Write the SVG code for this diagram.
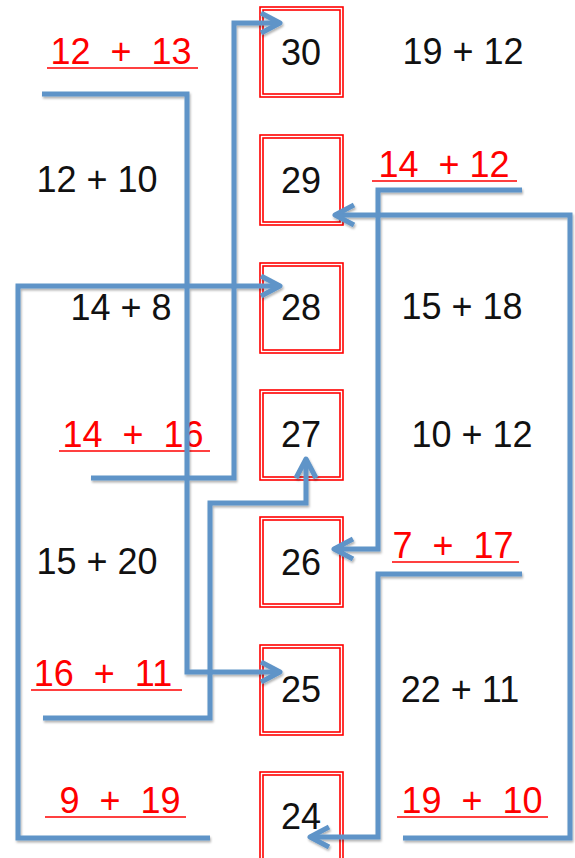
<svg xmlns="http://www.w3.org/2000/svg" width="575" height="858" viewBox="0 0 575 858">
<defs>
<style>
.box{fill:none;stroke:#ff0000;stroke-width:1.6}
.num{font-family:"Liberation Sans",Arial,sans-serif;font-size:36px;fill:#111;text-anchor:middle}
.lbl{font-family:"Liberation Sans",Arial,sans-serif;font-size:36px;fill:#111;text-anchor:middle}
.red{font-family:"Liberation Sans",Arial,sans-serif;font-size:36px;fill:#ff0000;text-anchor:middle;white-space:pre}
.ul{stroke:#ff0000;stroke-width:1.5}
.con{fill:none;stroke:#5f94c8;stroke-width:5;stroke-linejoin:miter;marker-end:url(#arr)}
</style>
<marker id="arr" markerUnits="userSpaceOnUse" viewBox="-24 -14 28 28" refX="0" refY="0" markerWidth="28" markerHeight="28" orient="auto">
<path d="M-19,-10 L0,0 L-19,10" fill="none" stroke="#5f94c8" stroke-width="5" stroke-linejoin="round" stroke-linecap="butt"/>
</marker>
<filter id="sh" x="-10%" y="-10%" width="120%" height="120%">
<feDropShadow dx="1" dy="2" stdDeviation="1.2" flood-color="#000" flood-opacity="0.3"/>
</filter>
</defs>
<rect width="575" height="858" fill="#fff"/>

<g id="box30"><rect class="box" x="260" y="7" width="83" height="90"/><rect class="box" x="263" y="10" width="77" height="84"/><text class="num" x="301" y="65">30</text></g>
<g id="box29"><rect class="box" x="260" y="135" width="83" height="90"/><rect class="box" x="263" y="138" width="77" height="84"/><text class="num" x="301" y="193">29</text></g>
<g id="box28"><rect class="box" x="260" y="263" width="83" height="90"/><rect class="box" x="263" y="266" width="77" height="84"/><text class="num" x="301" y="320">28</text></g>
<g id="box27"><rect class="box" x="260" y="390" width="83" height="90"/><rect class="box" x="263" y="393" width="77" height="84"/><text class="num" x="301" y="447">27</text></g>
<g id="box26"><rect class="box" x="260" y="517" width="83" height="90"/><rect class="box" x="263" y="520" width="77" height="84"/><text class="num" x="301" y="575">26</text></g>
<g id="box25"><rect class="box" x="260" y="645" width="83" height="90"/><rect class="box" x="263" y="648" width="77" height="84"/><text class="num" x="301" y="702">25</text></g>
<g id="box24"><rect class="box" x="260" y="772" width="83" height="90"/><rect class="box" x="263" y="775" width="77" height="84"/><text class="num" x="301" y="829">24</text></g>

<g id="lbl-12-13"><text class="red" x="121" y="64" xml:space="preserve">12  +  13</text><line class="ul" x1="47" y1="68" x2="198" y2="68"/></g>
<g id="lbl-12-10"><text class="lbl" x="97" y="192">12 + 10</text></g>
<g id="lbl-14-8"><text class="lbl" x="121" y="320">14 + 8</text></g>
<g id="lbl-14-16"><text class="red" x="133" y="447" xml:space="preserve">14  +  16</text><line class="ul" x1="59" y1="451" x2="210" y2="451"/></g>
<g id="lbl-15-20"><text class="lbl" x="97" y="574">15 + 20</text></g>
<g id="lbl-16-11"><text class="red" x="103" y="686" xml:space="preserve">16  +  11</text><line class="ul" x1="31" y1="690" x2="182" y2="690"/></g>
<g id="lbl-9-19"><text class="red" x="120" y="813" xml:space="preserve">9  +  19</text><line class="ul" x1="45" y1="817" x2="186" y2="817"/></g>

<g id="lbl-19-12"><text class="lbl" x="463" y="64">19 + 12</text></g>
<g id="lbl-14-12"><text class="red" x="444" y="177" xml:space="preserve">14  + 12</text><line class="ul" x1="372" y1="181" x2="517" y2="181"/></g>
<g id="lbl-15-18"><text class="lbl" x="462" y="319">15 + 18</text></g>
<g id="lbl-10-12"><text class="lbl" x="472" y="447">10 + 12</text></g>
<g id="lbl-7-17"><text class="red" x="453" y="558" xml:space="preserve">7  +  17</text><line class="ul" x1="392" y1="562" x2="519" y2="562"/></g>
<g id="lbl-22-11"><text class="lbl" x="460" y="702">22 + 11</text></g>
<g id="lbl-19-10"><text class="red" x="472" y="813" xml:space="preserve">19  +  10</text><line class="ul" x1="397" y1="817" x2="548" y2="817"/></g>

<g id="connectors" filter="url(#sh)">
<path class="con" d="M42,94 H187 V672 H280"/>
<path class="con" d="M91,478 H234 V23 H280"/>
<path class="con" d="M43,718 H210 V503 H306 V459"/>
<path class="con" d="M210,838 H18 V286 H280"/>
<path class="con" d="M522,190 H378 V549 H334"/>
<path class="con" d="M403,838 H570 V215 H335"/>
<path class="con" d="M522,574 H378 V837 H310"/>
</g>
</svg>
